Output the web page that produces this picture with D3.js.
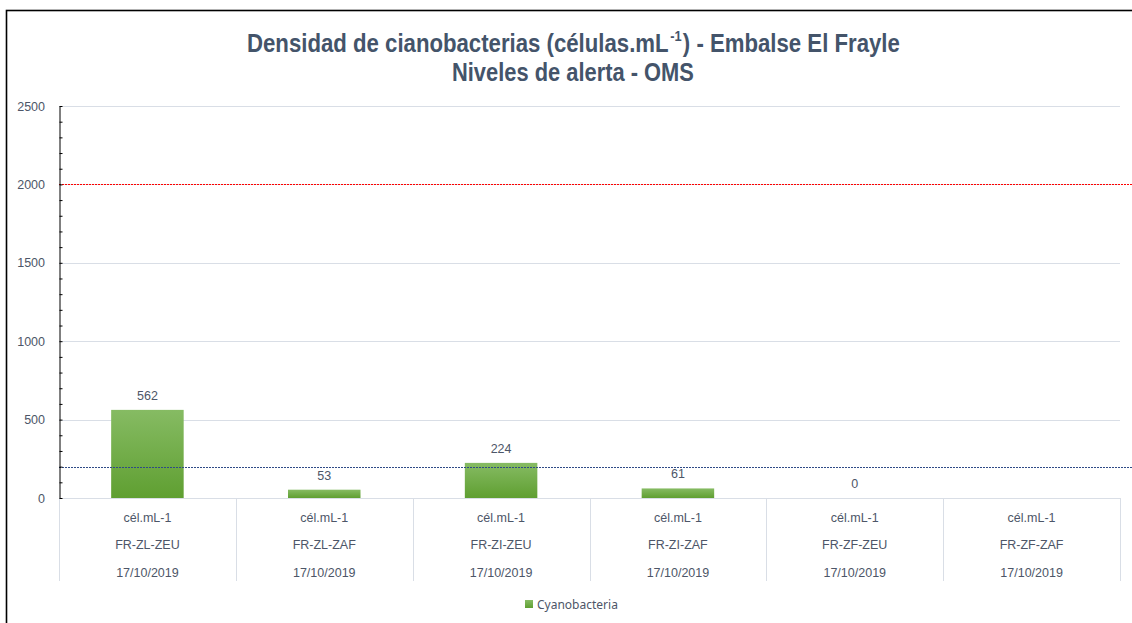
<!DOCTYPE html>
<html>
<head>
<meta charset="utf-8">
<script src="https://cdn.jsdelivr.net/npm/d3@7/dist/d3.min.js"></script>
<style>
html,body{margin:0;padding:0;background:#fff;}
svg{display:block;}
</style>
</head>
<body>
<svg id="chart" width="1132" height="623"></svg>
<script>
// ---- data ----
const units = ["cél.mL-1","cél.mL-1","cél.mL-1","cél.mL-1","cél.mL-1","cél.mL-1"];
const sites = ["FR-ZL-ZEU","FR-ZL-ZAF","FR-ZI-ZEU","FR-ZI-ZAF","FR-ZF-ZEU","FR-ZF-ZAF"];
const dates = ["17/10/2019","17/10/2019","17/10/2019","17/10/2019","17/10/2019","17/10/2019"];
const values = [562, 53, 224, 61, 0, null];
const alertLevels = [2000, 200];
const alertColors = ["#ff0000", "#2e4a86"];
const yTicksMajor = [0, 500, 1000, 1500, 2000, 2500];
const seriesName = "Cyanobacteria";
const titleParts = ["Densidad de cianobacterias (células.mL", "-1", ") - Embalse El Frayle"];
const subtitle = "Niveles de alerta - OMS";

(function(){
const svg = d3.select("#chart");
const W = 1132, H = 623;
const pL = 59, pR = 1120, pT = 106, pB = 498;
const lblFont = "'Liberation Sans', Arial, sans-serif";
const lblColor = "#4d5668";

// gradient
const defs = svg.append("defs");
const grad = defs.append("linearGradient").attr("id","barGrad")
  .attr("x1",0).attr("y1",0).attr("x2",0).attr("y2",1);
grad.append("stop").attr("offset","0%").attr("stop-color","#86bb63");
grad.append("stop").attr("offset","100%").attr("stop-color","#5f9f31");

// border
svg.append("rect").attr("x",6.5).attr("y",10.5).attr("width",1140).attr("height",640)
  .attr("fill","none").attr("stroke","#000").attr("stroke-width",1.6);

const x = d3.scaleBand().domain(sites.map((d,i)=>i)).range([pL,pR]).paddingInner(0).paddingOuter(0);
const y = d3.scaleLinear().domain([0,2500]).range([pB,pT]);

// gridlines
svg.append("g").selectAll("line").data(yTicksMajor).join("line")
  .attr("x1",pL).attr("x2",pR)
  .attr("y1",d=>Math.round(y(d))+0.5).attr("y2",d=>Math.round(y(d))+0.5)
  .attr("stroke","#d9dee6").attr("stroke-width",1);

// category dividers
const bounds = d3.range(sites.length+1).map(i => i < sites.length ? x(i) : pR);
svg.append("g").selectAll("line").data(bounds).join("line")
  .attr("x1",d=>Math.round(d)+0.5).attr("x2",d=>Math.round(d)+0.5)
  .attr("y1",pB).attr("y2",581)
  .attr("stroke","#d9dee6").attr("stroke-width",1);

// bars
const bw = x.bandwidth()*0.41;
const vals = values.map((v,i)=>({v,i})).filter(d=>d.v!==null);
svg.append("g").selectAll("rect").data(vals).join("rect")
  .attr("x",d=>x(d.i)+x.bandwidth()/2-bw/2)
  .attr("width",bw)
  .attr("y",d=>y(d.v))
  .attr("height",d=>y(0)-y(d.v))
  .attr("fill","url(#barGrad)");

// data labels
svg.append("g").selectAll("text").data(vals).join("text")
  .attr("x",d=>x(d.i)+x.bandwidth()/2)
  .attr("y",d=>y(d.v)-10)
  .attr("text-anchor","middle")
  .attr("font-family",lblFont)
  .attr("font-size",12.5)
  .attr("fill",lblColor)
  .text(d=>d.v);

// alert lines
svg.append("g").selectAll("line").data(alertLevels).join("line")
  .attr("x1",pL).attr("x2",W)
  .attr("y1",d=>Math.round(y(d))+0.5).attr("y2",d=>Math.round(y(d))+0.5)
  .attr("stroke",(d,i)=>alertColors[i]).attr("stroke-width",1)
  .attr("stroke-dasharray","2,1");

// y axis (minor ticks inside)
const axisG = svg.append("g").attr("transform",`translate(${pL+0.5},0)`)
  .call(d3.axisLeft(y).tickValues(d3.range(0,2501,100)).tickSizeInner(-3).tickSizeOuter(0).tickFormat(""));
axisG.select(".domain").attr("stroke","#000");
axisG.selectAll(".tick line").attr("stroke","#000");

// y labels
const labG = svg.append("g").attr("transform",`translate(${pL},0)`)
  .call(d3.axisLeft(y).tickValues(yTicksMajor).tickSize(0).tickPadding(14).tickFormat(d3.format("d")));
labG.select(".domain").remove();
labG.selectAll("text").attr("font-family",lblFont)
  .attr("font-size",12.5).attr("fill",lblColor);

// category labels
const catG = svg.append("g");
[[units,522],[sites,549],[dates,577]].forEach(([arr,yy])=>{
  catG.append("g").selectAll("text").data(arr).join("text")
    .attr("x",(d,i)=>x(i)+x.bandwidth()/2)
    .attr("y",yy)
    .attr("text-anchor","middle")
    .attr("font-family",lblFont)
    .attr("font-size",12.5)
    .attr("fill",lblColor)
    .text(d=>d);
});

// title: pieces laid out side by side, then condensed to target width
const tf = "'Liberation Sans Narrow', 'Arial Narrow', 'Liberation Sans', Arial, sans-serif";
const tcol = "#44546a";
function titleLine(parts, sizes, shifts, cx, baseY, targetW){
  const g = svg.append("g");
  let cur = 0;
  parts.forEach((p,i)=>{
    const t = g.append("text").attr("x",cur).attr("y",shifts[i])
      .attr("font-family",tf).attr("font-weight","bold").attr("font-size",sizes[i])
      .attr("fill",tcol).text(p);
    cur += t.node().getComputedTextLength() + (i < parts.length-1 ? 1.5 : 0);
  });
  const s = targetW / cur;
  g.attr("transform",`translate(${cx - targetW/2},${baseY}) scale(${s},1)`);
}
titleLine(titleParts, [26,15,26], [0,-11,0], 573.5, 52, 653);
titleLine([subtitle], [26], [0], 573, 81, 242);

// legend
svg.append("rect").attr("x",525).attr("y",600).attr("width",8).attr("height",8).attr("fill","url(#barGrad)");
svg.append("text").attr("x",537).attr("y",609)
  .attr("font-family","'Noto Sans', 'Open Sans', sans-serif").attr("font-size",12)
  .attr("fill",lblColor).text(seriesName);
})();
</script>
</body>
</html>
